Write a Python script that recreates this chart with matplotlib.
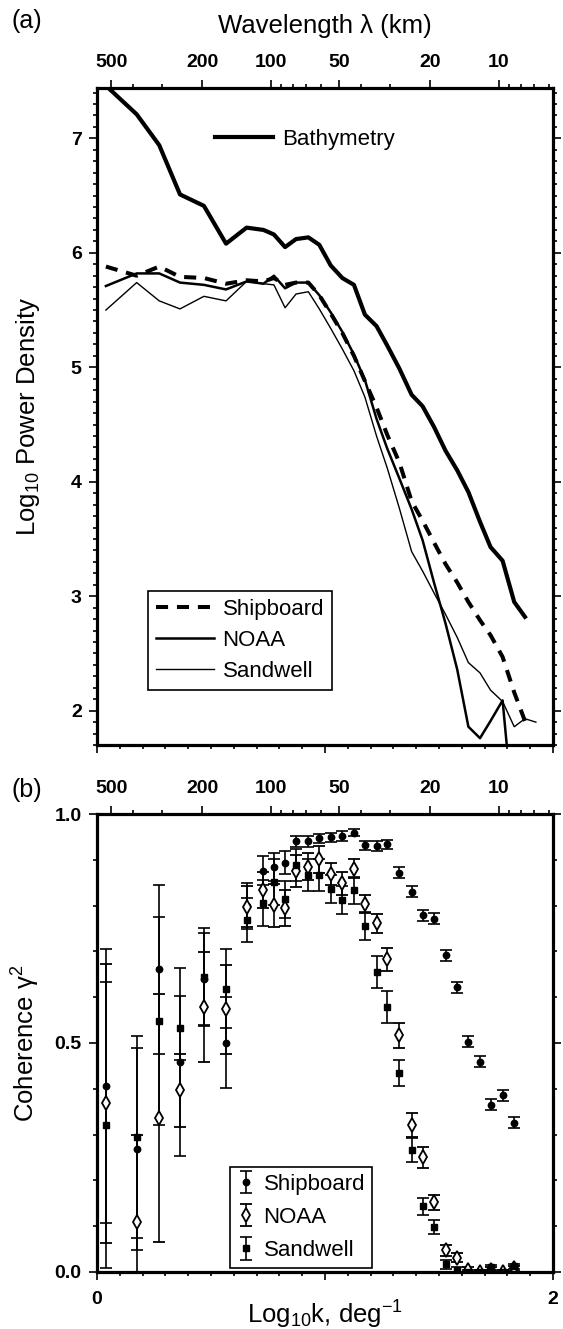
import numpy as np
import matplotlib
matplotlib.use("Agg")
import matplotlib.pyplot as plt
from matplotlib.ticker import MultipleLocator, FixedLocator

plt.rcParams['font.family'] = ['Liberation Sans', 'DejaVu Sans']
plt.rcParams['mathtext.default'] = 'regular'

# log10 of wavenumber (deg^-1) for each spectral estimate
k = [0.039, 0.174, 0.273, 0.364, 0.469, 0.566, 0.656, 0.730, 0.776, 0.825,
     0.873, 0.927, 0.975, 1.025, 1.076, 1.127, 1.175, 1.226, 1.273, 1.326,
     1.380, 1.428, 1.478, 1.529, 1.580, 1.629, 1.680, 1.726, 1.779, 1.830,
     1.877, 1.925]

# (a) log10 power density
bathymetry = [7.46, 7.21, 6.94, 6.51, 6.41, 6.08, 6.22, 6.20, 6.16, 6.05,
              6.12, 6.135, 6.07, 5.89, 5.78, 5.72, 5.46, 5.36, 5.19, 4.99,
              4.76, 4.66, 4.48, 4.27, 4.10, 3.91, 3.65, 3.43, 3.31, 2.95,
              2.82]
shipboard = [5.88, 5.80, 5.88, 5.79, 5.78, 5.73, 5.76, 5.75, 5.78, 5.72,
             5.74, 5.74, 5.63, 5.47, 5.30, 5.10, 4.88, 4.65, 4.41, 4.17,
             3.83, 3.66, 3.47, 3.28, 3.12, 2.95, 2.79, 2.66, 2.47, 2.16,
             1.91]
noaa = [5.71, 5.82, 5.82, 5.74, 5.72, 5.68, 5.75, 5.73, 5.80, 5.69,
        5.74, 5.74, 5.63, 5.48, 5.31, 5.11, 4.89, 4.55, 4.29, 4.03,
        3.76, 3.49, 3.12, 2.76, 2.36, 1.86, 1.76, 1.91, 2.09, 1.00]
sandwell = [5.50, 5.74, 5.58, 5.51, 5.62, 5.58, 5.75, 5.73, 5.72, 5.52,
            5.64, 5.66, 5.51, 5.34, 5.16, 4.97, 4.74, 4.40, 4.12, 3.77,
            3.39, 3.22, 3.03, 2.84, 2.64, 2.42, 2.33, 2.18, 2.08, 1.86,
            1.93, 1.90]

# (b) coherence with gravity, one value per bin (first 30 bins)
coh_ship = [0.406, 0.268, 0.661, 0.458, 0.640, 0.501, 0.800, 0.876, 0.884, 0.894,
            0.940, 0.940, 0.947, 0.949, 0.952, 0.959, 0.932, 0.930, 0.934, 0.872,
            0.830, 0.779, 0.771, 0.692, 0.622, 0.503, 0.459, 0.365, 0.386, 0.326]
err_ship = [0.300, 0.220, 0.184, 0.205, 0.100, 0.100, 0.050, 0.032, 0.030, 0.025,
            0.012, 0.012, 0.010, 0.010, 0.010, 0.008, 0.010, 0.010, 0.010, 0.012,
            0.012, 0.012, 0.012, 0.012, 0.012, 0.012, 0.012, 0.012, 0.012, 0.012]
coh_noaa = [0.368, 0.110, 0.336, 0.397, 0.579, 0.574, 0.798, 0.834, 0.801, 0.795,
            0.876, 0.885, 0.901, 0.869, 0.849, 0.881, 0.803, 0.761, 0.683, 0.517,
            0.321, 0.250, 0.152, 0.047, 0.031, 0.005, 0.000, 0.005, 0.000, 0.008]
err_noaa = [0.305, 0.190, 0.270, 0.080, 0.120, 0.097, 0.045, 0.040, 0.047, 0.040,
            0.035, 0.030, 0.030, 0.025, 0.025, 0.020, 0.020, 0.020, 0.025, 0.027,
            0.026, 0.024, 0.017, 0.012, 0.010, 0.005, 0.005, 0.005, 0.005, 0.005]
coh_sand = [0.321, 0.295, 0.549, 0.532, 0.645, 0.619, 0.769, 0.805, 0.852, 0.814,
            0.889, 0.867, 0.867, 0.836, 0.812, 0.833, 0.755, 0.656, 0.579, 0.435,
            0.266, 0.143, 0.099, 0.017, 0.005, 0.000, 0.000, 0.010, 0.000, 0.012]
err_sand = [0.313, 0.220, 0.227, 0.070, 0.107, 0.087, 0.048, 0.050, 0.050, 0.040,
            0.035, 0.035, 0.035, 0.030, 0.030, 0.030, 0.030, 0.035, 0.035, 0.028,
            0.026, 0.019, 0.015, 0.010, 0.006, 0.005, 0.005, 0.005, 0.005, 0.005]

# wavelength axis (km) on top of both panels
wave_major = [500, 200, 100, 50, 20, 10]
wave_minor = [400, 300, 90, 80, 70, 60, 40, 30, 9, 8, 7, 6]
KM_PER_K = 578.0   # log10 k = log10(KM_PER_K / wavelength)

TICK_FS = 14
LABEL_FS = 18.5
LEG_FS = 16


def style_axes(ax):
    for s in ax.spines.values():
        s.set_linewidth(2.3)
    ax.tick_params(which='both', direction='out', width=1.2,
                   top=False, right=True, bottom=True, left=True)
    ax.tick_params(which='major', length=6, labelsize=TICK_FS, pad=5)
    ax.tick_params(which='minor', length=3)
    ax.set_xlim(0, 2)
    ax.xaxis.set_major_locator(FixedLocator([0, 1, 2]))
    ax.xaxis.set_minor_locator(MultipleLocator(0.1))


def add_wavelength_axis(ax):
    top = ax.twiny()
    top.set_xlim(ax.get_xlim())
    top.set_xticks(np.log10(KM_PER_K / np.array(wave_major)))
    top.set_xticklabels([str(w) for w in wave_major], fontweight='bold',
                        fontsize=TICK_FS)
    top.set_xticks(np.log10(KM_PER_K / np.array(wave_minor)), minor=True)
    top.tick_params(which='both', direction='out', width=1.2)
    top.tick_params(which='major', length=6, pad=6)
    top.tick_params(which='minor', length=3)
    for s in top.spines.values():
        s.set_visible(False)
    return top


fig = plt.figure(figsize=(5.63, 13.29), dpi=100)
ax1 = fig.add_axes([0.1723, 0.4394, 0.8099, 0.4944])
ax2 = fig.add_axes([0.1723, 0.0429, 0.8099, 0.3446])

# ---- (a) power spectra ----
kk = np.array(k)
bl, = ax1.plot(kk[:len(bathymetry)], bathymetry, color='black', lw=3.0)
sl, = ax1.plot(kk[:len(shipboard)], shipboard, color='black', lw=2.9,
               dashes=(3, 2.2), dash_capstyle='butt')
nl, = ax1.plot(kk[:len(noaa)], noaa, color='black', lw=1.8)
wl, = ax1.plot(kk[:len(sandwell)], sandwell, color='black', lw=1.0)
ax1.set_ylim(1.70, 7.44)
style_axes(ax1)
ax1.set_xticklabels([])
ax1.yaxis.set_major_locator(FixedLocator([2, 3, 4, 5, 6, 7]))
ax1.yaxis.set_minor_locator(MultipleLocator(0.1))
ax1.set_yticklabels(['2', '3', '4', '5', '6', '7'], fontweight='bold')
ax1.set_ylabel('Log$_{10}$ Power Density', fontsize=LABEL_FS)
ax1.yaxis.set_label_coords(-0.12, 0.5)

top1 = add_wavelength_axis(ax1)
top1.set_xlabel('Wavelength λ (km)', fontsize=LABEL_FS)
top1.xaxis.set_label_coords(0.5, 1.083)

leg_b = ax1.legend([bl], ['Bathymetry'], loc='center left',
                   bbox_to_anchor=(0.24, 0.922), frameon=False,
                   fontsize=LEG_FS, handlelength=2.6, handletextpad=0.4,
                   borderaxespad=0)
ax1.add_artist(leg_b)
leg_a = ax1.legend([sl, nl, wl], ['Shipboard', 'NOAA', 'Sandwell'],
                   loc='lower left', bbox_to_anchor=(0.112, 0.084),
                   fontsize=LEG_FS, handlelength=2.6, handletextpad=0.4,
                   borderaxespad=0, fancybox=False, edgecolor='black',
                   framealpha=1, labelspacing=0.45, borderpad=0.35)
leg_a.get_frame().set_linewidth(1.2)

# ---- (b) coherence ----
kc = kk[:len(coh_ship)]
eb_kw = dict(color='black', elinewidth=1.2, capsize=4.5, capthick=1.2,
             linestyle='none')
h_ship = ax2.errorbar(kc, coh_ship, yerr=err_ship, marker='o', ms=4.6,
                      mfc='black', mec='black', **eb_kw)
h_noaa = ax2.errorbar(kc, coh_noaa, yerr=err_noaa, marker='d', ms=6.8,
                      mfc='white', mec='black', mew=1.3, **eb_kw)
h_sand = ax2.errorbar(kc, coh_sand, yerr=err_sand, marker='s', ms=4.4,
                      mfc='black', mec='black', **eb_kw)
ax2.set_ylim(0, 1)
style_axes(ax2)
ax2.set_xticklabels(['0', '', '2'], fontweight='bold')
ax2.tick_params(axis='x', which='major', pad=8)
ax2.yaxis.set_major_locator(FixedLocator([0, 0.5, 1.0]))
ax2.yaxis.set_minor_locator(MultipleLocator(0.1))
ax2.set_yticklabels(['0.0', '0.5', '1.0'], fontweight='bold')
ax2.set_ylabel('Coherence γ$^2$', fontsize=LABEL_FS)
ax2.yaxis.set_label_coords(-0.12, 0.5)
ax2.set_xlabel('Log$_{10}$k, deg$^{-1}$', fontsize=LABEL_FS)
ax2.xaxis.set_label_coords(0.5, -0.058)

top2 = add_wavelength_axis(ax2)

leg_c = ax2.legend([h_ship, h_noaa, h_sand], ['Shipboard', 'NOAA', 'Sandwell'],
                   loc='lower left', bbox_to_anchor=(0.292, 0.009),
                   fontsize=LEG_FS, handlelength=0.8, handletextpad=0.4,
                   borderaxespad=0, fancybox=False, edgecolor='black',
                   framealpha=1, labelspacing=0.55, borderpad=0.3)
leg_c.get_frame().set_linewidth(1.2)

fig.text(0.021, 1 - 21 / 1329, '(a)', fontsize=18, ha='left', va='center')
fig.text(0.021, 1 - 790 / 1329, '(b)', fontsize=18, ha='left', va='center')

fig.savefig('out.png', dpi=100)
